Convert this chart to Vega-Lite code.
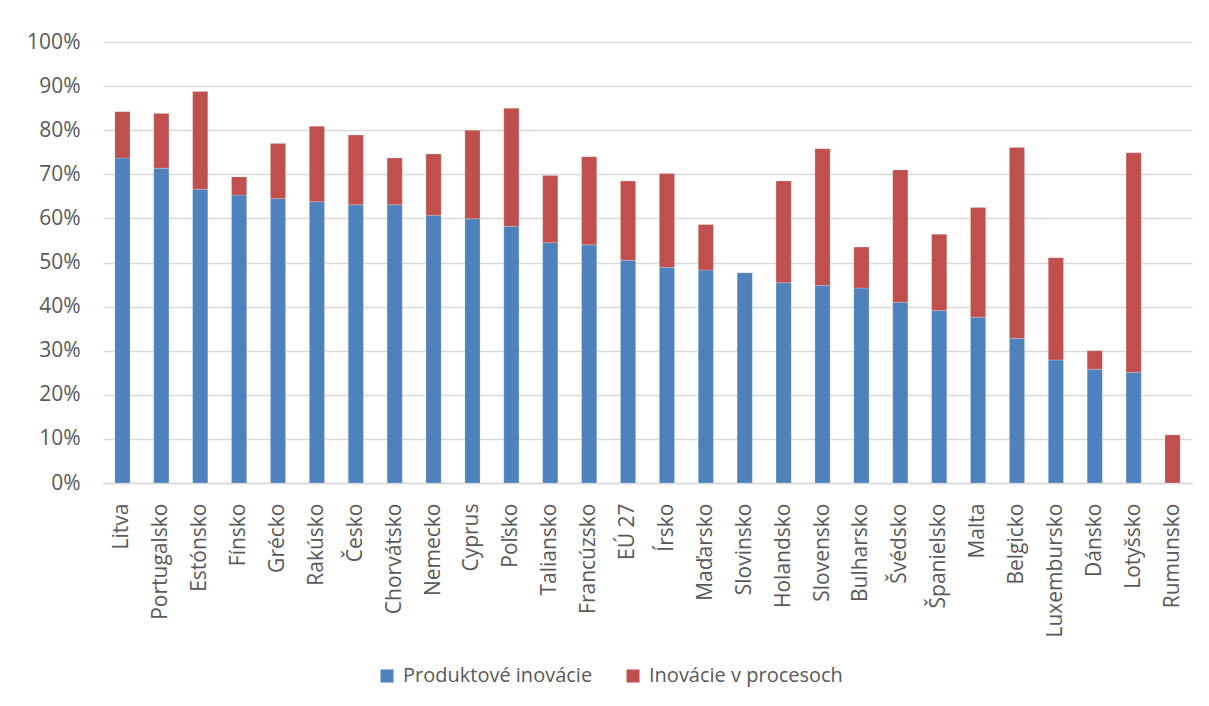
{
  "$schema": "https://vega.github.io/schema/vega-lite/v6.json",
  "width": 1089,
  "height": 441,
  "autosize": {"type": "none"},
  "padding": {"left": 103, "top": 42, "right": 17, "bottom": 223},
  "background": "white",
  "config": {
    "font": "Open Sans",
    "view": {"stroke": null},
    "axis": {"labelColor": "#595959", "titleColor": "#595959"}
  },
  "data": {
    "values": [
      {"country": "Litva", "series": "Produktové inovácie", "value": 73.7},
      {"country": "Litva", "series": "Inovácie v procesoch", "value": 10.5},
      {"country": "Portugalsko", "series": "Produktové inovácie", "value": 71.4},
      {"country": "Portugalsko", "series": "Inovácie v procesoch", "value": 12.4},
      {"country": "Estónsko", "series": "Produktové inovácie", "value": 66.6},
      {"country": "Estónsko", "series": "Inovácie v procesoch", "value": 22.2},
      {"country": "Fínsko", "series": "Produktové inovácie", "value": 65.3},
      {"country": "Fínsko", "series": "Inovácie v procesoch", "value": 4.1},
      {"country": "Grécko", "series": "Produktové inovácie", "value": 64.5},
      {"country": "Grécko", "series": "Inovácie v procesoch", "value": 12.5},
      {"country": "Rakúsko", "series": "Produktové inovácie", "value": 63.8},
      {"country": "Rakúsko", "series": "Inovácie v procesoch", "value": 17.1},
      {"country": "Česko", "series": "Produktové inovácie", "value": 63.1},
      {"country": "Česko", "series": "Inovácie v procesoch", "value": 15.8},
      {"country": "Chorvátsko", "series": "Produktové inovácie", "value": 63.1},
      {"country": "Chorvátsko", "series": "Inovácie v procesoch", "value": 10.6},
      {"country": "Nemecko", "series": "Produktové inovácie", "value": 60.7},
      {"country": "Nemecko", "series": "Inovácie v procesoch", "value": 13.9},
      {"country": "Cyprus", "series": "Produktové inovácie", "value": 59.9},
      {"country": "Cyprus", "series": "Inovácie v procesoch", "value": 20.1},
      {"country": "Poľsko", "series": "Produktové inovácie", "value": 58.2},
      {"country": "Poľsko", "series": "Inovácie v procesoch", "value": 26.8},
      {"country": "Taliansko", "series": "Produktové inovácie", "value": 54.5},
      {"country": "Taliansko", "series": "Inovácie v procesoch", "value": 15.2},
      {"country": "Francúzsko", "series": "Produktové inovácie", "value": 54.0},
      {"country": "Francúzsko", "series": "Inovácie v procesoch", "value": 20.0},
      {"country": "EÚ 27", "series": "Produktové inovácie", "value": 50.5},
      {"country": "EÚ 27", "series": "Inovácie v procesoch", "value": 18.0},
      {"country": "Írsko", "series": "Produktové inovácie", "value": 48.9},
      {"country": "Írsko", "series": "Inovácie v procesoch", "value": 21.3},
      {"country": "Maďarsko", "series": "Produktové inovácie", "value": 48.3},
      {"country": "Maďarsko", "series": "Inovácie v procesoch", "value": 10.3},
      {"country": "Slovinsko", "series": "Produktové inovácie", "value": 47.7},
      {"country": "Slovinsko", "series": "Inovácie v procesoch", "value": 0},
      {"country": "Holandsko", "series": "Produktové inovácie", "value": 45.4},
      {"country": "Holandsko", "series": "Inovácie v procesoch", "value": 23.1},
      {"country": "Slovensko", "series": "Produktové inovácie", "value": 44.8},
      {"country": "Slovensko", "series": "Inovácie v procesoch", "value": 31.0},
      {"country": "Bulharsko", "series": "Produktové inovácie", "value": 44.2},
      {"country": "Bulharsko", "series": "Inovácie v procesoch", "value": 9.3},
      {"country": "Švédsko", "series": "Produktové inovácie", "value": 41.0},
      {"country": "Švédsko", "series": "Inovácie v procesoch", "value": 30.0},
      {"country": "Španielsko", "series": "Produktové inovácie", "value": 39.1},
      {"country": "Španielsko", "series": "Inovácie v procesoch", "value": 17.3},
      {"country": "Malta", "series": "Produktové inovácie", "value": 37.6},
      {"country": "Malta", "series": "Inovácie v procesoch", "value": 24.9},
      {"country": "Belgicko", "series": "Produktové inovácie", "value": 32.8},
      {"country": "Belgicko", "series": "Inovácie v procesoch", "value": 43.3},
      {"country": "Luxembursko", "series": "Produktové inovácie", "value": 27.9},
      {"country": "Luxembursko", "series": "Inovácie v procesoch", "value": 23.2},
      {"country": "Dánsko", "series": "Produktové inovácie", "value": 25.8},
      {"country": "Dánsko", "series": "Inovácie v procesoch", "value": 4.2},
      {"country": "Lotyšsko", "series": "Produktové inovácie", "value": 25.1},
      {"country": "Lotyšsko", "series": "Inovácie v procesoch", "value": 49.8},
      {"country": "Rumunsko", "series": "Produktové inovácie", "value": 0},
      {"country": "Rumunsko", "series": "Inovácie v procesoch", "value": 10.9}
    ]
  },
  "mark": {"type": "bar", "stroke": "white", "strokeWidth": 0.5, "strokeOpacity": 0.4},
  "encoding": {
    "x": {
      "field": "country",
      "type": "nominal",
      "sort": null,
      "scale": {"paddingInner": 0.61, "paddingOuter": 0.305},
      "axis": {
        "title": null,
        "labelAngle": -90,
        "labelPadding": 20,
        "ticks": false,
        "domainColor": "#D9D9D9",
        "domainWidth": 1.3,
        "labelFontSize": 21,
        "labelLimit": 0
      }
    },
    "y": {
      "field": "value",
      "type": "quantitative",
      "stack": "zero",
      "scale": {"domain": [0, 100], "nice": false},
      "axis": {
        "title": null,
        "values": [0, 10, 20, 30, 40, 50, 60, 70, 80, 90, 100],
        "labelExpr": "datum.value + '%'",
        "domain": false,
        "ticks": false,
        "labelPadding": 23,
        "gridColor": "#D9D9D9",
        "gridWidth": 1.3,
        "labelFontSize": 21
      }
    },
    "color": {
      "field": "series",
      "type": "nominal",
      "scale": {
        "domain": ["Produktové inovácie", "Inovácie v procesoch"],
        "range": ["#4F81BD", "#C0504D"]
      },
      "legend": {
        "title": null,
        "orient": "none",
        "direction": "horizontal",
        "legendX": 274,
        "legendY": 624,
        "symbolType": "square",
        "symbolSize": 169,
        "symbolStrokeWidth": 0,
        "symbolOpacity": 1,
        "labelFontSize": 20,
        "labelLimit": 0,
        "labelColor": "#595959",
        "columnPadding": 30,
        "labelOffset": 6,
        "padding": 0
      }
    },
    "order": {"field": "series", "sort": "descending"}
  }
}
